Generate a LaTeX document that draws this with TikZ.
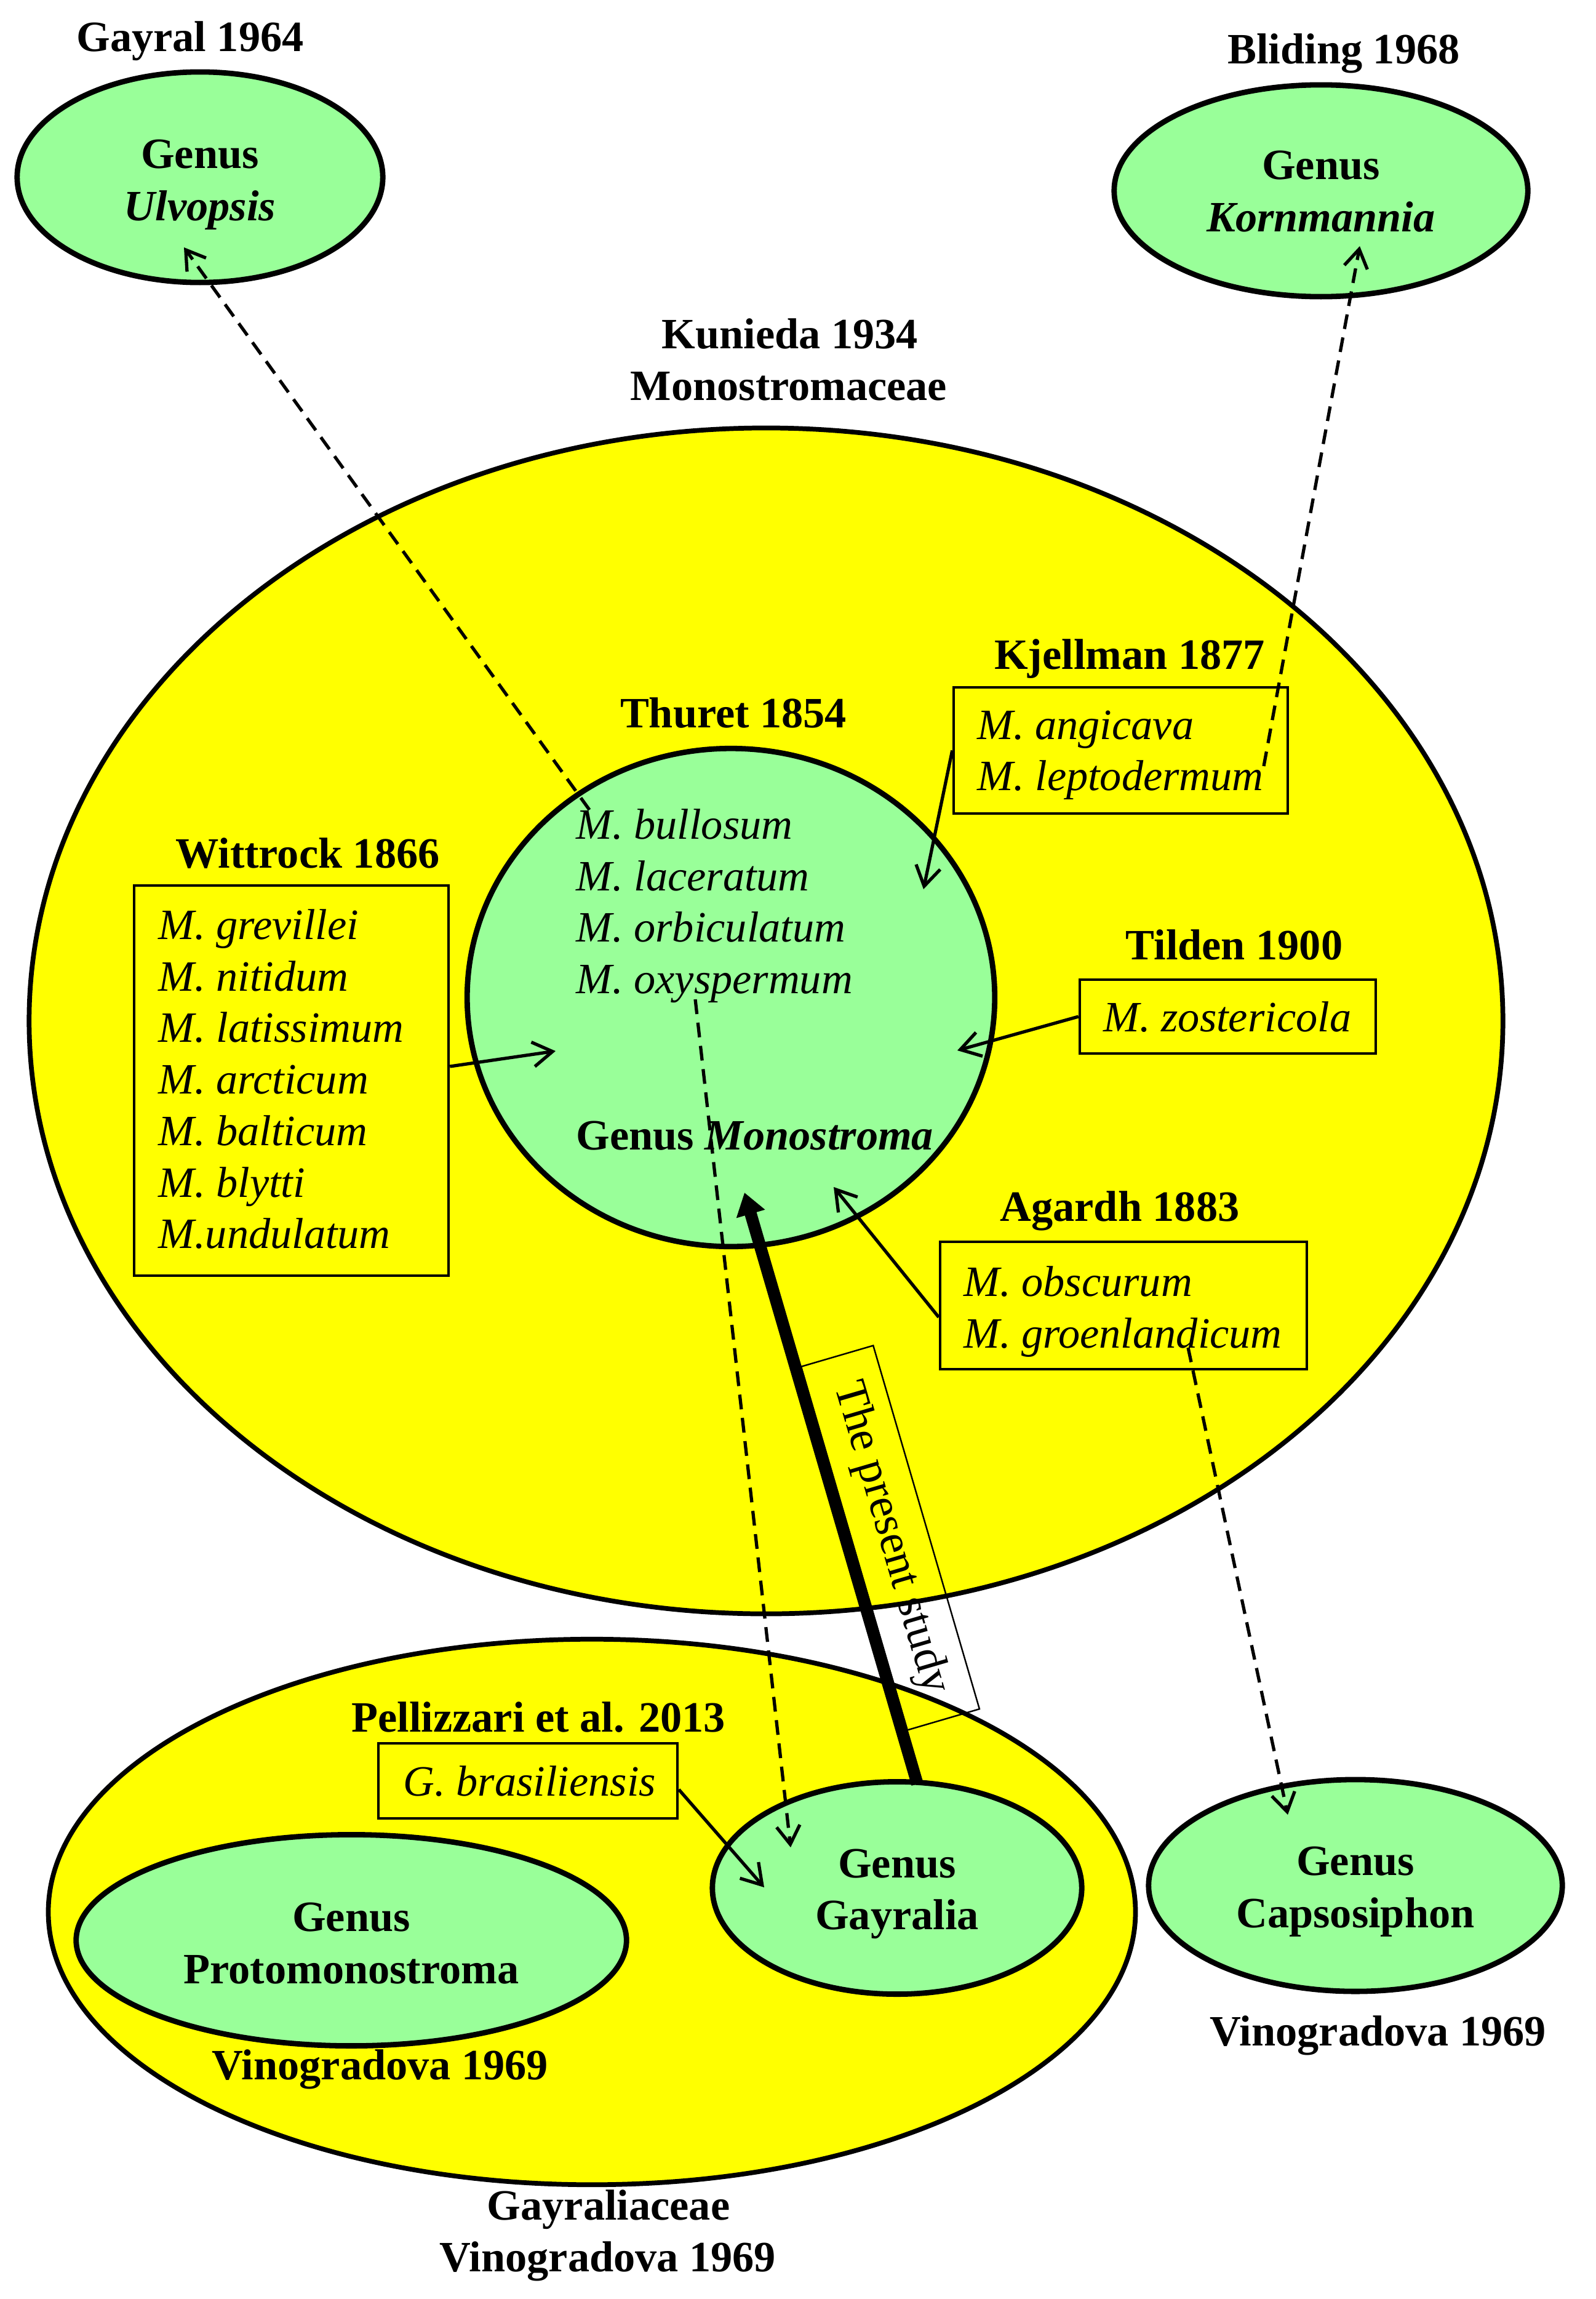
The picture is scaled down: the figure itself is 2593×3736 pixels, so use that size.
\documentclass[tikz,border=0pt]{standalone}
\usepackage{fontspec}
\setmainfont{Liberation Serif}
\usetikzlibrary{arrows.meta,shapes.geometric}
\definecolor{lgreen}{HTML}{99FF99}
\definecolor{yel}{HTML}{FFFF00}
\begin{document}
\begin{tikzpicture}[x=0.01cm,y=-0.01cm,
  hd/.style={font=\fontsize{20}{24}\selectfont\bfseries, anchor=base, inner sep=0pt},
  sp/.style={font=\fontsize{20}{23.8}\selectfont\itshape, anchor=north west, align=left, inner sep=0pt},
  famell/.style={ellipse, draw=black, line width=2.2pt, fill=yel, inner sep=0pt},
  genell/.style={ellipse, draw=black, line width=2.5pt, fill=lgreen, inner sep=0pt},
  gtext/.style={align=center, inner sep=0pt, font=\fontsize{20}{24}\selectfont\bfseries},
  spbox/.style={rectangle, draw=black, line width=1.2pt, inner sep=0pt},
  arr/.style={line width=1.5pt, -{Straight Barb[length=0.32cm,width=0.4cm]}},
  darr/.style={line width=1.5pt, dash pattern=on 0.24cm off 0.14cm, -{Straight Barb[length=0.3cm,width=0.38cm]}},
]
\fill[white] (0,0) rectangle (2593,3736);
\useasboundingbox (0,0) rectangle (2593,3736);

% family ellipses
\node[famell, minimum width=23.94cm, minimum height=19.26cm] (fam) at (1245,1659) {};
\node[famell, minimum width=17.66cm, minimum height=8.86cm] (gfam) at (962,3107) {};

% genus ellipses
\node[genell, minimum width=5.94cm, minimum height=3.42cm] (ulv) at (325,288) {};
\node[gtext] (ulvt) at (325,300) {Genus\\\textit{Ulvopsis}};
\node[genell, minimum width=6.72cm, minimum height=3.44cm] (korn) at (2147,310) {};
\node[gtext] (kornt) at (2147,311) {Genus\\\textit{Kornmannia}};
\node[genell, minimum width=8.57cm, minimum height=8.09cm] (thu) at (1188,1621) {};
\node[genell, minimum width=8.94cm, minimum height=3.43cm] (proto) at (571,3153) {};
\node[gtext] (protot) at (571,3158) {Genus\\Protomonostroma};
\node[genell, minimum width=6.0cm, minimum height=3.45cm] (gay) at (1458,3068) {};
\node[gtext] (gayt) at (1458,3078) {Genus\\Gayralia};
\node[genell, minimum width=6.72cm, minimum height=3.44cm] (caps) at (2203,3064) {};
\node[gtext] (capst) at (2203,3074) {Genus\\Capsosiphon};

% headings
\node[hd] (h1) at (309,83) {Gayral 1964};
\node[hd] (h2) at (2184,103) {Bliding 1968};
\node[hd] (h3) at (1284,566) {Kunieda 1934};
\node[hd] (h4) at (1282,650) {Monostromaceae};
\node[hd] (h5) at (1192,1182) {Thuret 1854};
\node[hd] (h6) at (500,1410) {Wittrock 1866};
\node[hd] (h7) at (1836,1087) {Kjellman 1877};
\node[hd] (h8) at (2006,1559) {Tilden 1900};
\node[hd] (h9) at (1820,1984) {Agardh 1883};
\node[hd] (h10) at (875,2814) {Pellizzari et al. 2013};
\node[hd] (h11) at (618,3379) {Vinogradova 1969};
\node[hd] (h12) at (2240,3324) {Vinogradova 1969};
\node[hd] (h13) at (989,3607) {Gayraliaceae};
\node[hd] (h14) at (988,3691) {Vinogradova 1969};

% Thuret species
\node[sp] (thtxt) at (936,1314) {M. bullosum\\M. laceratum\\M. orbiculatum\\M. oxyspermum};
\node[hd, anchor=base west] (gm) at (936,1868) {Genus \textit{Monostroma}};

% species boxes
\node[spbox, minimum width=5.11cm, minimum height=6.34cm] (wbox) at (473.5,1756) {};
\node[sp] (wtxt) at (257,1477) {M. grevillei\\M. nitidum\\M. latissimum\\M. arcticum\\M. balticum\\M. blytti\\M.undulatum};
\node[spbox, minimum width=5.43cm, minimum height=2.05cm] (kbox) at (1821.5,1219.5) {};
\node[sp] (ktxt) at (1588,1154) {M. angicava\\M. leptodermum};
\node[spbox, minimum width=4.81cm, minimum height=1.20cm] (tbox) at (1995.5,1652) {};
\node[sp] (ttxt) at (1793,1627) {M. zostericola};
\node[spbox, minimum width=5.96cm, minimum height=2.07cm] (abox) at (1826,2121.5) {};
\node[sp] (atxt) at (1566,2057) {M. obscurum\\M. groenlandicum};
\node[spbox, minimum width=4.86cm, minimum height=1.22cm] (gbox) at (858,2894) {};
\node[sp] (gtxt) at (655,2869) {G. brasiliensis};

% free ends
\coordinate (wtip) at (903,1708);
\coordinate (ktip) at (1501,1445);
\coordinate (ttip) at (1556,1707);
\coordinate (atip) at (1355,1929);
\coordinate (gtip) at (1242,3067);
\coordinate (ulvtip) at (299,402);
\coordinate (korntip) at (2210,400);
\coordinate (gaytip) at (1285,3002);
\coordinate (capstip) at (2093,2949);
\coordinate (bull) at (958,1316);
\coordinate (lept) at (2054,1245);
\coordinate (oxy) at (1130,1624);
\coordinate (groen) at (1931,2190);
\coordinate (thtip) at (1210,1938);

% solid arrows
\draw[arr] ([yshift=0.23cm]wbox.east) -- (wtip);
\draw[arr] (kbox.west) -- (ktip);
\draw[arr] (tbox.west) -- (ttip);
\draw[arr] ([yshift=-0.19cm]abox.west) -- (atip);
\draw[arr] ([yshift=-0.14cm]gbox.east) -- (gtip);

% dashed arrows
\draw[darr] (bull) -- (ulvtip);
\draw[darr] (lept) -- (korntip);
\draw[darr] (oxy) -- (gaytip);
\draw[darr] (groen) -- (capstip);

% present study
\node[draw, line width=0.7pt, rotate=-73.7, minimum width=6.15cm, minimum height=1.22cm, inner sep=0pt, font=\fontsize{21}{24}\selectfont] (ps) at (1447,2499) {The present study};
\draw[line width=5.6pt, -{Triangle[length=0.36cm,width=0.46cm]}] ([xshift=0.33cm,yshift=-0.08cm]gay.north) -- (thtip);
\end{tikzpicture}
\end{document}
